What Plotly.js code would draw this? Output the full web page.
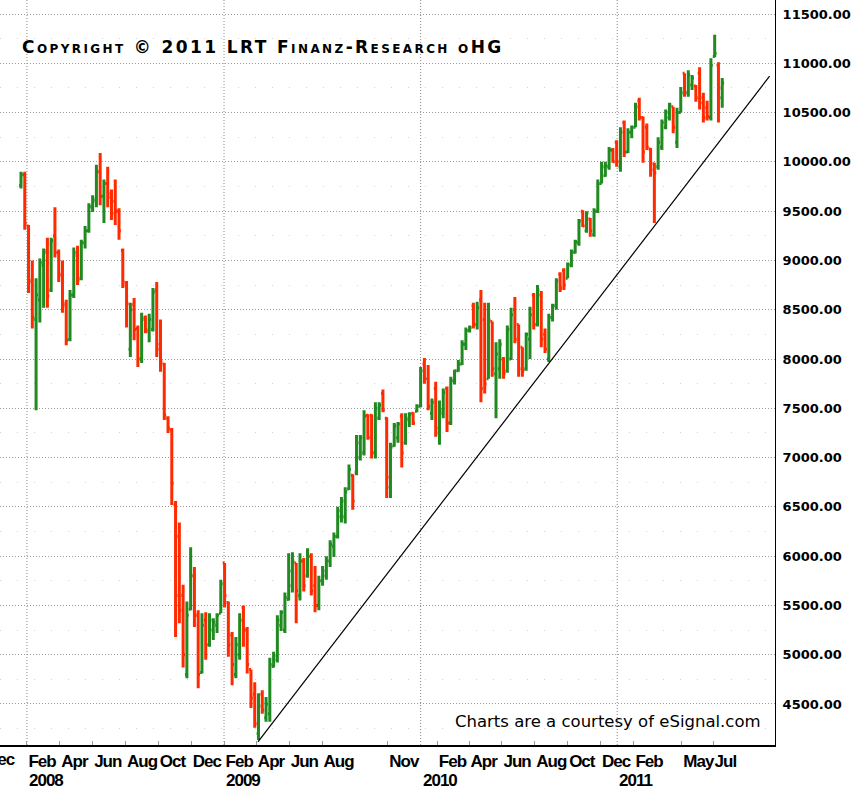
<!DOCTYPE html>
<html>
<head>
<meta charset="utf-8">
<script src="https://cdn.plot.ly/plotly-3.0.1.min.js"></script>
<style>html,body{margin:0;padding:0;background:#fff;}#chart{width:854px;height:791px;}</style>
</head>
<body>
<div id="chart"></div>
<script>
// ---- data (weekly OHLC bars) ----
const firstWeek = '2007-12-21';
const openV = [
9760,9870,9350,8800,8400,8600,8950,9100,8700,9250,
9080,8850,8560,8200,8650,9050,8820,9180,9300,9540,
9600,9900,9650,9780,9680,9600,9500,9100,8750,8100,
8550,8310,8000,8420,8280,8300,8700,8150,7950,7400,
7280,6520,6200,5600,4800,5460,5800,5400,4820,5350,
5100,5250,5300,5420,5930,5530,5200,4800,5000,5480,
5250,4850,4600,4200,4600,4360,4400,4880,4950,5300,
5250,5560,5700,5930,5600,5950,5800,6000,5700,5500,
5750,5800,5950,6100,6200,6400,6400,6680,6820,6850,
7000,7050,7430,7430,7050,7400,7650,7400,6700,7120,
7200,7420,7150,7380,7450,7470,7520,7950,7800,7450,
7700,7250,7450,7700,7350,7780,7880,7950,8150,8290,
8540,8350,8600,8400,7800,8380,7850,7900,8000,7880,
8000,8500,8350,8120,7900,8200,8650,8350,8650,8250,
8000,8420,8540,8860,8900,8820,8950,9080,9180,9500,
9300,9420,9260,9500,9780,9860,9950,10120,10200,9950,
10400,10100,10300,10350,10620,10450,10350,10130,9980,9950,
10150,10350,10450,10560,10200,10500,10900,10700,10780,10770,
10900,10650,10550,10450,11070,10980,10650];
const highV = [
9900,9900,9360,9000,8820,9020,9120,9230,9230,9540,
9110,9000,8600,8700,9130,9150,9210,9350,9580,9660,
9970,10090,9820,9950,9720,9820,9530,9120,8790,8570,
8620,8340,8470,8440,8460,8720,8780,8400,7960,7420,
7300,6560,6340,5710,5540,6090,5890,5450,5420,5430,
5420,5370,5420,5760,5930,5540,5230,5180,5420,5500,
5280,4850,4720,4610,4640,4570,4970,5030,5400,5450,
5630,6030,6040,5930,6030,5980,6080,6030,5900,5800,
5900,6000,6160,6240,6500,6600,6700,6930,6830,7230,
7230,7480,7440,7440,7560,7560,7690,7410,7150,7350,
7360,7450,7450,7460,7460,7540,7920,8010,7940,7600,
7770,7580,7700,7720,7820,7890,7990,8190,8320,8340,
8570,8580,8700,8570,8570,8380,8170,8200,8020,8340,
8520,8630,8350,8120,8270,8530,8670,8750,8690,8310,
8460,8560,8820,8880,8920,8980,9110,9210,9420,9510,
9500,9430,9530,9820,10000,10000,10150,10140,10220,10350,
10420,10340,10370,10600,10650,10460,10390,10140,9990,10250,
10430,10530,10600,10560,10550,10760,10900,10930,10880,10780,
10960,10700,10620,11050,11290,11010,10850];
const lowV = [
9730,9310,8670,8310,7480,8370,8520,8520,8680,9030,
8780,8470,8140,8180,8620,8750,8800,9120,9280,9490,
9540,9560,9380,9540,9410,9360,9210,8720,8320,8020,
8190,7920,7960,8260,8170,8280,8020,7870,7380,7250,
6520,5180,5320,4870,4760,5450,5280,4660,4810,4950,
5080,5150,5220,5420,5480,4980,4690,4760,4950,5080,
4810,4460,4260,4135,4400,4320,4320,4870,4920,5240,
5220,5550,5630,5320,5550,5640,5780,5600,5430,5450,
5700,5760,5890,5990,6180,6340,6330,6670,6470,6820,
6970,7020,7180,6990,6990,7380,7460,6590,6590,7110,
7150,6900,7130,7310,7330,7460,7510,7750,7480,7380,
7210,7130,7400,7260,7330,7740,7870,7940,8090,8270,
8310,8300,7560,7650,7800,7820,7400,7800,7800,7860,
7990,8160,7820,7820,7880,8000,8300,8330,8120,8060,
7970,8380,8500,8680,8700,8820,8930,9070,9150,9340,
9280,9240,9240,9480,9780,9850,9920,9990,9950,9900,
10050,10090,10240,10350,10420,9990,10120,9850,9380,9920,
10120,10330,10420,10290,10140,10500,10660,10660,10730,10610,
10530,10400,10420,10420,11060,10400,10550];
const closeV = [
9870,9380,8780,8420,8650,8980,9080,8640,9200,9080,
8860,8540,8190,8650,9080,8800,9180,9300,9550,9620,
9900,9650,9780,9640,9480,9500,9300,8780,8560,8500,
8300,8000,8400,8300,8400,8680,8100,7980,7430,7300,
6740,5600,5450,5000,5400,5800,5400,4800,5300,5100,
5350,5330,5400,5720,5600,5100,4900,5100,5350,5250,
4900,4560,4300,4480,4440,4500,4900,4990,5350,5430,
5580,5850,5950,5650,5950,5700,6000,5650,5500,5750,
5850,5950,6120,6200,6460,6560,6650,6880,6560,7150,
7200,7420,7200,7050,7500,7530,7480,6800,7100,7320,
7340,7050,7400,7440,7350,7520,7880,7800,7520,7560,
7300,7480,7660,7350,7780,7880,7950,8150,8290,8320,
8350,8520,7700,7750,8400,7900,8050,8150,7850,8300,
8450,8200,7900,7880,8250,8450,8350,8700,8200,8100,
8420,8540,8790,8720,8750,8960,9090,9190,9400,9350,
9480,9300,9500,9780,9950,9960,10120,10000,10000,10300,
10100,10300,10350,10560,10450,10100,10150,9920,9890,10200,
10400,10500,10580,10350,10500,10700,10700,10880,10850,10650,
10600,10450,10460,10980,11100,10750,10800];

// trend line (support) endpoints
const trendDates = ['2009-03-05', '2011-10-11'];
const trendValues = [4115, 10870];

// x-axis labels
const monthTickDates = ['2008-01-01','2008-03-02','2008-05-02','2008-07-02','2008-09-01','2008-11-01',
  '2009-01-01','2009-03-02','2009-05-02','2009-07-02','2009-11-01',
  '2010-02-01','2010-04-01','2010-06-01','2010-08-01','2010-10-01','2010-12-01',
  '2011-02-01','2011-05-01','2011-06-28'];
const monthTickLabels = ['Feb','Apr','Jun','Aug','Oct','Dec','Feb','Apr','Jun','Aug','Nov',
  'Feb','Apr','Jun','Aug','Oct','Dec','Feb','May','Jul'];
const yearDates = ['2008-01-01','2009-01-01','2010-01-01','2011-01-01'];
const yearLabels = ['2008','2009','2010','2011'];

// ---- build weekly dates ----
const dates = [];
const d0 = new Date(firstWeek + 'T00:00:00Z');
for (let i = 0; i < closeV.length; i++) {
  const d = new Date(d0.getTime() + i * 7 * 86400000);
  dates.push(d.toISOString().slice(0, 10));
}

const GREEN = '#1f8a1f';
const RED = '#ff2a00';
const tickFont = {family: '"Liberation Sans", Arial, sans-serif', size: 17, weight: 'bold', color: '#000'};
const tight = s => '<span style="letter-spacing:-1px">' + s + '</span>';

const traces = [
  {
    type: 'ohlc', x: dates, open: openV, high: highV, low: lowV, close: closeV,
    increasing: {line: {color: GREEN, width: 3}},
    decreasing: {line: {color: RED, width: 3}},
    tickwidth: 0.5, hoverinfo: 'skip', showlegend: false
  },
  {
    type: 'scatter', mode: 'lines', x: trendDates, y: trendValues,
    line: {color: '#000', width: 1.2}, hoverinfo: 'skip', showlegend: false
  }
];

const shapes = yearDates.map(d => ({
  type: 'line', xref: 'x', yref: 'paper', x0: d, x1: d, y0: 0, y1: 1,
  line: {color: '#8a8a8a', width: 1, dash: '1px,2px'}, layer: 'below'
}));

const annotations = [
  {
    xref: 'paper', yref: 'paper', x: 20/775, y: 1 - 47.5/745, xanchor: 'left', yanchor: 'middle',
    text: '<span style="letter-spacing:2.4px">Copyright © 2011 LRT Finanz-Research oHG</span>',
    showarrow: false,
    font: {family: '"DejaVu Sans", sans-serif', size: 17, weight: 'bold', variant: 'small-caps', color: '#000'}
  },
  {
    xref: 'paper', yref: 'paper', x: 763/775, y: (745-721)/745, xanchor: 'right', yanchor: 'middle',
    text: 'Charts are a courtesy of eSignal.com', showarrow: false,
    font: {family: '"DejaVu Sans", sans-serif', size: 16.5, color: '#000'}
  },
  {
    xref: 'paper', yref: 'paper', x: -16/775, y: -0.004, xanchor: 'left', yanchor: 'top',
    text: tight('Dec'), showarrow: false, font: tickFont
  }
];
yearDates.forEach((d, i) => annotations.push({
  xref: 'x', yref: 'paper', x: d, y: -24/745, xanchor: 'left', yanchor: 'top',
  text: tight(yearLabels[i]), showarrow: false, font: tickFont
}));

const layout = {
  width: 854, height: 791,
  margin: {l: 0, r: 79, t: 0, b: 46, pad: 0},
  paper_bgcolor: '#fff', plot_bgcolor: '#fff',
  showlegend: false,
  xaxis: {
    type: 'date', range: ['2007-11-12', '2011-10-21'],
    rangeslider: {visible: false},
    tickmode: 'array', tickvals: monthTickDates, ticktext: monthTickLabels.map(tight),
    ticklabelposition: 'outside right', tickangle: 0,
    ticks: 'inside', ticklen: 4, tickcolor: '#999', tickwidth: 1,
    tickfont: tickFont,
    showgrid: false, zeroline: false,
    showline: true, linecolor: '#000', linewidth: 2,
    automargin: false, fixedrange: true
  },
  yaxis: {
    side: 'right', range: [4084, 11642],
    tick0: 0, dtick: 500, tickformat: '.2f',
    ticks: '', ticklabelstandoff: 4,
    tickfont: {family: '"DejaVu Sans", sans-serif', size: 13, weight: 'bold', color: '#000'},
    showgrid: true, gridcolor: '#9a9a9a', gridwidth: 1, griddash: '1px,2px',
    minor: {tick0: 250, dtick: 500, showgrid: true, gridcolor: '#d4d4d4', griddash: '1px,16px', gridwidth: 1},
    zeroline: false, showline: true, linecolor: '#000', linewidth: 1,
    automargin: false, fixedrange: true
  },
  shapes: shapes,
  annotations: annotations
};

Plotly.newPlot('chart', traces, layout, {displayModeBar: false, staticPlot: true});
</script>
</body>
</html>
